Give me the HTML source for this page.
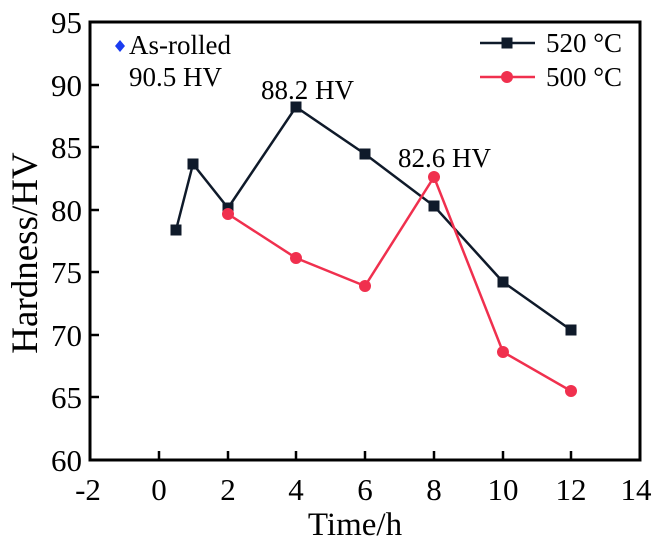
<!DOCTYPE html><html><head><style>body{margin:0;background:#fff}</style></head><body>
<svg width="659" height="547" xmlns="http://www.w3.org/2000/svg" font-family="Liberation Serif, serif">
<rect x="90" y="22" width="550" height="438" fill="none" stroke="#000" stroke-width="3"/>
<g stroke="#000" stroke-width="2.5">
<line x1="159" y1="460" x2="159" y2="451"/><line x1="228" y1="460" x2="228" y2="451"/><line x1="296" y1="460" x2="296" y2="451"/><line x1="365" y1="460" x2="365" y2="451"/><line x1="434" y1="460" x2="434" y2="451"/><line x1="503" y1="460" x2="503" y2="451"/><line x1="571" y1="460" x2="571" y2="451"/>
<line x1="90" y1="85" x2="99" y2="85"/><line x1="90" y1="147" x2="99" y2="147"/><line x1="90" y1="210" x2="99" y2="210"/><line x1="90" y1="272" x2="99" y2="272"/><line x1="90" y1="335" x2="99" y2="335"/><line x1="90" y1="397" x2="99" y2="397"/>
</g>
<g font-size="31" text-anchor="end">
<text x="82" y="33">95</text><text x="82" y="96">90</text><text x="82" y="158">85</text><text x="82" y="221">80</text><text x="82" y="283">75</text><text x="82" y="346">70</text><text x="82" y="408">65</text><text x="82" y="471">60</text>
</g>
<g font-size="31" text-anchor="middle">
<text x="88" y="500">-2</text><text x="159" y="500">0</text><text x="228" y="500">2</text><text x="296" y="500">4</text><text x="365" y="500">6</text><text x="434" y="500">8</text><text x="503" y="500">10</text><text x="571" y="500">12</text><text x="636" y="500">14</text>
<text x="355" y="535" font-size="33">Time/h</text>
<text transform="translate(37,253) rotate(-90)" font-size="37">Hardness/HV</text>
</g>
<polyline fill="none" stroke="#0f1a2a" stroke-width="2.5" points="176,230 193,164 228,208 296,107 365,154 434,206 503,282 571,330"/>
<g fill="#0f1a2a">
<rect x="170.5" y="224.5" width="11" height="11"/><rect x="187.5" y="158.5" width="11" height="11"/><rect x="222.5" y="202.5" width="11" height="11"/><rect x="290.5" y="101.5" width="11" height="11"/><rect x="359.5" y="148.5" width="11" height="11"/><rect x="428.5" y="200.5" width="11" height="11"/><rect x="497.5" y="276.5" width="11" height="11"/><rect x="565.5" y="324.5" width="11" height="11"/>
</g>
<polyline fill="none" stroke="#f0304e" stroke-width="2.5" points="228,214 296,258 365,286 434,177 503,352 571,391"/>
<g fill="#f0304e">
<circle cx="228" cy="214" r="6"/><circle cx="296" cy="258" r="6"/><circle cx="365" cy="286" r="6"/><circle cx="434" cy="177" r="6"/><circle cx="503" cy="352" r="6"/><circle cx="571" cy="391" r="6"/>
</g>
<line x1="480" y1="43" x2="535" y2="43" stroke="#0f1a2a" stroke-width="2.5"/><rect x="501.5" y="37.5" width="11" height="11" fill="#0f1a2a"/>
<line x1="480" y1="77" x2="535" y2="77" stroke="#f0304e" stroke-width="2.5"/><circle cx="507" cy="77" r="6" fill="#f0304e"/>
<g font-size="27">
<text x="546" y="52">520 °C</text><text x="546" y="86">500 °C</text>
<text x="129" y="54">As-rolled</text><text x="129" y="86">90.5 HV</text>
<text x="261" y="99">88.2 HV</text><text x="398" y="167">82.6 HV</text>
</g>
<polygon points="120,40 125,46 120,52 115,46" fill="#1a3cf0"/>
</svg>
</body></html>
